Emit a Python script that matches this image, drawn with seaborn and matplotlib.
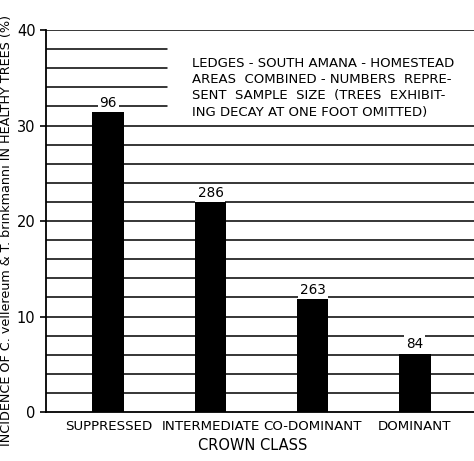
import matplotlib
matplotlib.use("Agg")
import matplotlib.pyplot as plt
import numpy as np
import seaborn as sns

# data
crown_class = ["SUPPRESSED", "INTERMEDIATE", "CO-DOMINANT", "DOMINANT"]
incidence = [31.4, 22.0, 11.8, 6.1]
sample_size = [96, 286, 263, 84]

note = ("LEDGES - SOUTH AMANA - HOMESTEAD\n"
        "AREAS  COMBINED - NUMBERS  REPRE-\n"
        "SENT  SAMPLE  SIZE  (TREES  EXHIBIT-\n"
        "ING DECAY AT ONE FOOT OMITTED)")

sns.set_style("ticks")
plt.rcParams["font.family"] = ["DejaVu Sans"]
plt.rcParams["text.color"] = "black"
plt.rcParams["axes.labelcolor"] = "black"
plt.rcParams["xtick.color"] = "black"
plt.rcParams["ytick.color"] = "black"

fig = plt.figure(figsize=(4.74, 4.61), dpi=100)
ax = fig.add_axes([0.097, 0.106, 0.903, 0.829])

# horizontal rules every 2%, short ones under the note
for g in np.arange(2, 41, 2):
    xmax = 0.283 if 32 <= g <= 38 else 1.0
    ax.axhline(g, xmin=0, xmax=xmax, color="black", lw=1.1, zorder=0)

sns.barplot(x=crown_class, y=incidence, color="black", width=0.31,
            saturation=1, edgecolor="black", linewidth=0, ax=ax, zorder=2)

for i, (v, n) in enumerate(zip(incidence, sample_size)):
    ax.text(i, v + 0.25, str(n), ha="center", va="bottom", fontsize=9.8,
            zorder=3, bbox=dict(fc="white", ec="none", pad=1.5))

ax.text(0.342, 0.93, note, transform=ax.transAxes, ha="left", va="top",
        fontsize=9.5, linespacing=1.33)

ax.set_xlim(-0.61, 3.58)
ax.set_ylim(0, 40)
ax.set_yticks([0, 10, 20, 30, 40])
ax.tick_params(axis="y", length=4, width=1.2, labelsize=10.5)
ax.tick_params(axis="x", length=0, labelsize=9.6, pad=6)

for s in ["top", "right"]:
    ax.spines[s].set_visible(False)
for s in ["left", "bottom"]:
    ax.spines[s].set_color("black")
    ax.spines[s].set_linewidth(1.3)

ax.set_xlabel("CROWN CLASS", fontsize=10.5)
ax.xaxis.set_label_coords(0.483, -0.067)
ax.set_ylabel("INCIDENCE OF C. vellereum & T. brinkmanni IN HEALTHY TREES (%)",
              fontsize=9.2)
ax.yaxis.set_label_coords(-0.077, 0.475)

fig.savefig("out.png", dpi=100)
